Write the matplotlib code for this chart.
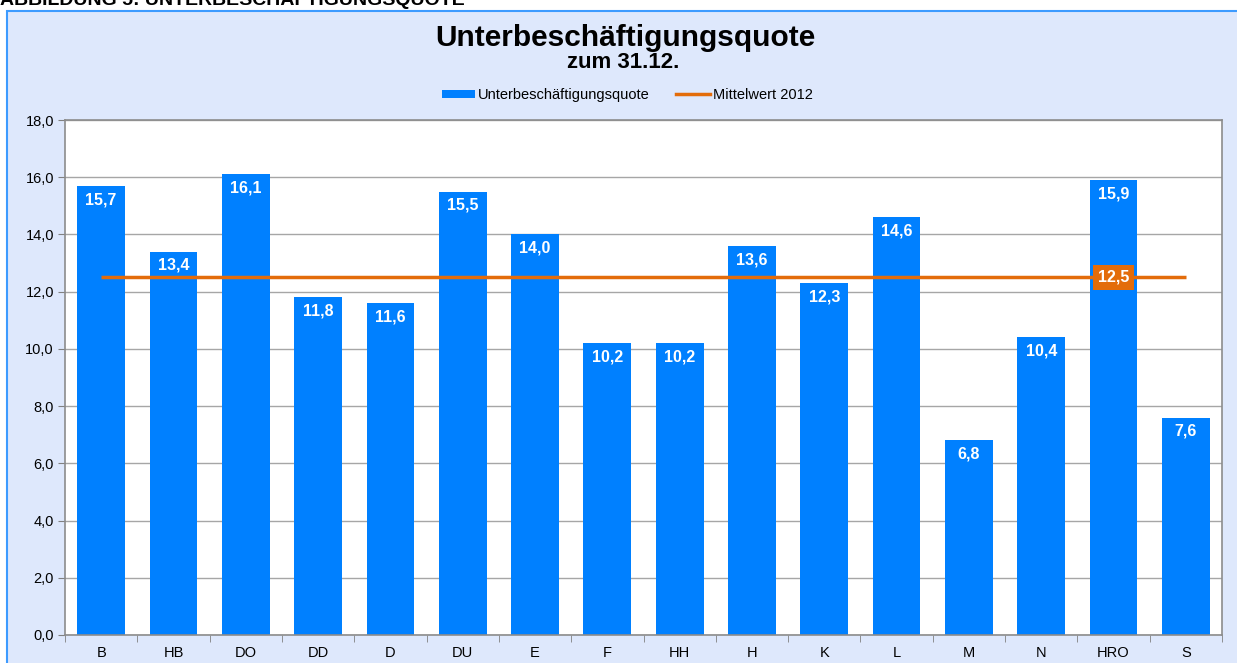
import matplotlib
matplotlib.use("Agg")
import matplotlib.pyplot as plt
from matplotlib.patches import Rectangle, Patch
from matplotlib.lines import Line2D
import numpy as np

plt.rcParams['font.family'] = ['Liberation Sans', 'DejaVu Sans']

categories = ["B", "HB", "DO", "DD", "D", "DU", "E", "F", "HH", "H", "K", "L", "M", "N", "HRO", "S"]
values = [15.7, 13.4, 16.1, 11.8, 11.6, 15.5, 14.0, 10.2, 10.2, 13.6, 12.3, 14.6, 6.8, 10.4, 15.9, 7.6]
mean_value = 12.5
mean_label_category = "HRO"
series_label = "Unterbeschäftigungsquote"
mean_series_label = "Mittelwert 2012"
title = "Unterbeschäftigungsquote"
subtitle = "zum 31.12."
heading = "ABBILDUNG 5: UNTERBESCHÄFTIGUNGSQUOTE"
yticks = [0, 2, 4, 6, 8, 10, 12, 14, 16, 18]

BLUE = "#0080FF"
ORANGE = "#E36C0A"
BG = "#DEE8FC"

W, H = 1237, 663
fig = plt.figure(figsize=(W / 100, H / 100), dpi=100)
fig.patch.set_facecolor("white")

# outer chart box
bg_ax = fig.add_axes([0, 0, 1, 1], zorder=-10)
bg_ax.set_axis_off()
bg_ax.set_xlim(0, W)
bg_ax.set_ylim(H, 0)
bg_ax.add_patch(Rectangle((7, 11), W + 20, H + 20, facecolor=BG, edgecolor="#3D9BFF", linewidth=1.5))

fig.text(0.0, 1 - 5 / H, heading, fontsize=14, fontweight="bold", va="baseline", ha="left")
fig.text(625 / W, 1 - 38 / H, title, fontsize=21.5, fontweight="bold", ha="center", va="center")
fig.text(623 / W, 1 - 63 / H, subtitle, fontsize=16, fontweight="bold", ha="center", va="center")

ax = fig.add_axes([65 / W, 28 / H, 1157 / W, 515 / H])
ax.set_facecolor("white")
x = np.arange(len(categories))
ax.bar(x, values, width=0.66, color=BLUE, zorder=2)
ax.plot(x, [mean_value] * len(x), color=ORANGE, linewidth=2.5, zorder=3, solid_capstyle="butt")

for xi, v in zip(x, values):
    ax.annotate(f"{v:.1f}".replace(".", ","), (xi, v), xytext=(0, -10), textcoords="offset points",
                ha="center", va="center", color="white", fontsize=11.5, fontweight="bold", zorder=4)

mi = categories.index(mean_label_category)
ax.text(x[mi], mean_value, f"{mean_value:.1f}".replace(".", ","), ha="center", va="center",
        color="white", fontsize=11.5, fontweight="bold", zorder=5,
        bbox=dict(boxstyle="square,pad=0.3", facecolor=ORANGE, edgecolor="none"))

ax.set_xlim(-0.5, len(categories) - 0.5)
ax.set_ylim(0, 18)
ax.set_yticks(yticks)
ax.set_yticklabels([f"{t:.1f}".replace(".", ",") for t in yticks], fontsize=10.5)
ax.yaxis.grid(True, color="#A6A6A6", linewidth=1, zorder=1)
ax.set_axisbelow(True)
ax.set_xticks(x)
ax.set_xticklabels(categories, fontsize=10.5)
ax.tick_params(axis="x", which="major", length=0, pad=8)
ax.set_xticks(np.arange(-0.5, len(categories), 1), minor=True)
ax.tick_params(axis="x", which="minor", length=5, color="#808080", direction="out")
ax.tick_params(axis="y", length=5, color="#808080", pad=3)
for s in ax.spines.values():
    s.set_color("#8C8C8C")
    s.set_linewidth(1.2)

handles = [Patch(facecolor=BLUE, edgecolor="none"),
           Line2D([0], [0], color=ORANGE, linewidth=2.5)]
fig.legend(handles, [series_label, mean_series_label], loc="center", bbox_to_anchor=(627 / W, 1 - 95 / H),
           ncol=2, frameon=False, fontsize=10.5, handlelength=2.3, handleheight=0.45, columnspacing=1.8,
           handletextpad=0.2)

fig.savefig("out.png", dpi=100)
